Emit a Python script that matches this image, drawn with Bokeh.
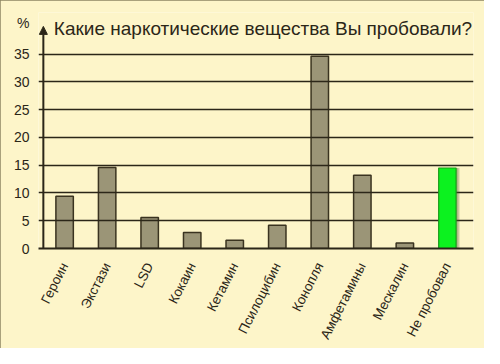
from bokeh.plotting import figure
from bokeh.models import Label, Arrow, NormalHead, FixedTicker, FactorRange, Range1d
from bokeh.transform import dodge
from bokeh.embed import file_html
from bokeh.resources import INLINE
import math

categories = ["Героин", "Экстази", "LSD", "Кокаин", "Кетамин", "Псилоцибин",
              "Конопля", "Амфетамины", "Мескалин", "Не пробовал"]
values = [9.4, 14.6, 5.6, 2.9, 1.5, 4.2, 34.6, 13.2, 1.0, 14.5]
highlight = "Не пробовал"
y_ticks = [0, 5, 10, 15, 20, 25, 30, 35]
title_text = "Какие наркотические вещества Вы пробовали?"
unit_text = "%"
unit_pos = 40.6
axis_top = 40
title_pos = 39.6

BG = "#FDF5C9"
INK = "#2b2618"
GRAY = "#9B9577"
GREEN = "#0CF21F"
FONT = "Liberation Sans"

gray_x = [c for c in categories if c != highlight]
gray_v = [v for c, v in zip(categories, values) if c != highlight]
green_x = [highlight]
green_v = [values[categories.index(highlight)]]

p = figure(width=484, height=348, output_backend="svg", toolbar_location=None,
           x_range=FactorRange(*categories, range_padding=0.114,
                               range_padding_units="absolute", factor_padding=0),
           y_range=Range1d(0, 42.5),
           min_border_left=38, min_border_right=11, min_border_top=12, min_border_bottom=99)
p.background_fill_color = BG
p.border_fill_color = BG
p.outline_line_color = None
p.styles = {"outline": "2px solid #8C8562", "outline-offset": "-2px"}

# grid (also serves as the tick marks left of the axis)
p.xgrid.grid_line_color = None
p.ygrid.ticker = FixedTicker(ticks=y_ticks[1:])
p.ygrid.grid_line_color = INK
p.ygrid.grid_line_width = 1.6

# gray bars under grid
p.vbar(x=gray_x, top=gray_v, width=0.41, fill_color=GRAY, line_color="#3a3320",
       line_width=1.5, level="image")
# shadow for highlighted bar
for off, a in [(0.09, 0.12), (0.07, 0.15), (0.05, 0.2)]:
    p.vbar(x=dodge("x", off, range=p.x_range), top="top", bottom=-0.7, width=0.41,
           source={"x": green_x, "top": green_v}, fill_color="#4a5a30",
           fill_alpha=a, line_color=None)
p.vbar(x=green_x, top=green_v, width=0.41, fill_color=GREEN, line_color="#1a9a1a",
       line_width=1.2)

# y axis: labels only, plus "%" above
p.yaxis.ticker = FixedTicker(ticks=y_ticks + [unit_pos])
p.yaxis.major_label_overrides = {unit_pos: unit_text}
p.yaxis.axis_line_color = None
p.yaxis.major_tick_line_color = None
p.yaxis.major_tick_in = 0
p.yaxis.major_tick_out = 0
p.yaxis.minor_tick_line_color = None
p.yaxis.major_label_standoff = 9
p.yaxis.major_label_text_font = FONT
p.yaxis.major_label_text_font_size = "14px"
p.yaxis.major_label_text_color = INK

p.xaxis.axis_line_color = INK
p.xaxis.axis_line_width = 2
p.xaxis.major_tick_line_color = None
p.xaxis.minor_tick_line_color = None
p.xaxis.major_label_orientation = math.radians(63)
p.xaxis.major_label_standoff = 9
p.xaxis.major_label_text_font = FONT
p.xaxis.major_label_text_font_size = "13.5px"
p.xaxis.major_label_text_color = INK

# y axis arrow
p.add_layout(Arrow(x_start=0, y_start=0, x_end=0, y_end=axis_top, line_color=INK,
                   line_width=2, end=NormalHead(size=8, fill_color=INK, line_color=INK)))

p.add_layout(Label(x=0, y=title_pos, x_offset=10.5, text=title_text,
                   text_font=FONT, text_font_size="19px", text_color=INK,
                   text_baseline="middle", text_align="left"))

open("out.html", "w").write(file_html(p, INLINE))
